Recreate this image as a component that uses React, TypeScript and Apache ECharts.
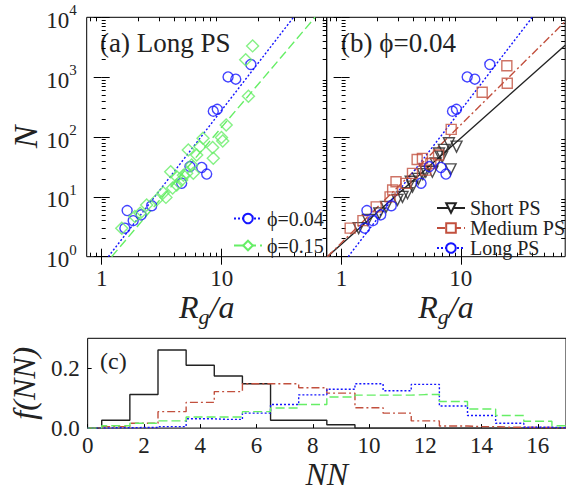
import { useEffect, useRef } from 'react';
import * as echarts from 'echarts';

const FONT = '"Liberation Serif", "Times New Roman", "DejaVu Serif", serif';
const BLUE = '#1414ff';
const GREEN = '#66ee66';
const RED = '#c2503e';
const BLACK = '#222222';

// ---- Panel (a): Long PS, N vs Rg/a ----
const longPhi004: number[][] = [
  [1.56, 3.0], [1.63, 5.9], [1.83, 4.0], [2.13, 5.0], [2.61, 7.1], [4.64, 16.9],
  [5.44, 32], [6.81, 31], [7.5, 24], [8.51, 270], [9.19, 290], [11.3, 1010],
  [13.1, 926], [17.5, 1630],
];
const longPhi015: number[][] = [
  [1.47, 3.0], [1.89, 4.7], [2.09, 5.3], [2.37, 7.3], [2.87, 8.9], [3.26, 11.7],
  [3.43, 9.8], [3.76, 26.3], [3.9, 14], [4.22, 21.7], [4.22, 15.8], [4.64, 19.1],
  [4.8, 23], [5.11, 24.7], [5.27, 60.6], [5.62, 34], [5.8, 24.7], [6.19, 50],
  [6.59, 69], [6.99, 95], [8.41, 67], [8.51, 44], [9.96, 98], [10.2, 86],
  [10.9, 158], [16.7, 480], [15.85, 1960], [18.1, 3330],
];
const fitPhi004: number[][] = [[1.135, 1], [39.7, 10000]];
const fitPhi015: number[][] = [[1.21, 1], [60, 10000]];

// ---- Panel (b): phi = 0.04 ----
const shortPS: number[][] = [
  [1.39, 3.0], [1.66, 4.1], [2.07, 5.3], [2.36, 6.8], [2.94, 8.9], [3.24, 10],
  [3.57, 11.5], [3.8, 17.9], [3.93, 14.8], [4.4, 20], [4.8, 24], [5.08, 26.3],
  [5.77, 26.3], [6.15, 36], [6.56, 53], [6.98, 47], [7.21, 61], [7.94, 78.5],
  [8.2, 28.8], [9.2, 69],
];
const mediumPS: number[][] = [
  [1.18, 3.0], [1.51, 4.0], [1.95, 6.8], [2.55, 10], [2.68, 13], [2.86, 17.9],
  [3.46, 16.8], [3.93, 24.7], [4.3, 42], [4.76, 44], [5.08, 28], [5.6, 36],
  [6.5, 50], [8.3, 134], [15.1, 558], [24.3, 1550], [24.5, 789],
];
const longPS: number[][] = longPhi004;
const fitShort: number[][] = [[0.76, 1], [75, 3400]];
const fitMedium: number[][] = [[0.76, 1], [75, 8500]];
const fitLong: number[][] = fitPhi004;

// ---- Panel (c): f(NN) histograms ----
const nnValues = [0, 1, 2, 3, 4, 5, 6, 7, 8, 9, 10, 11, 12, 13, 14, 15, 16, 17];
const fShort = [0, 0.026, 0.112, 0.261, 0.21, 0.174, 0.148, 0.026, 0.026, 0.011, 0, 0, 0, 0, 0, 0, 0, 0];
const fMedium = [0, 0.005, 0.016, 0.055, 0.086, 0.122, 0.148, 0.148, 0.135, 0.117, 0.068, 0.05, 0.024, 0.007, 0.005, 0.003, 0.002, 0];
const fLong = [0, 0.001, 0.002, 0.005, 0.031, 0.029, 0.05, 0.079, 0.111, 0.13, 0.148, 0.125, 0.146, 0.074, 0.042, 0.016, 0.003, 0.001];
const fLong015 = [0, 0.008, 0.016, 0.024, 0.037, 0.037, 0.055, 0.067, 0.079, 0.104, 0.11, 0.11, 0.112, 0.089, 0.064, 0.042, 0.023, 0.008];

// ---- ticks ----
const logXTicks = [1, 10];
const logYTicks = [1, 10, 100, 1000, 10000];
const nnTicks = [0, 2, 4, 6, 8, 10, 12, 14, 16];
const fTicks = [0, 0.2];
const X_MIN = 0.75, X_MAX = 75, Y_MIN = 1, Y_MAX = 10000;

const L10 = Math.log10;
const logXMinor: number[] = [];
for (const d of [0.1, 1, 10]) for (let k = 2; k <= 9; k++) { const v = k * d; if (v > X_MIN && v < X_MAX) logXMinor.push(v); }
const logYMinor: number[] = [];
for (const d of [1, 10, 100, 1000]) for (let k = 2; k <= 9; k++) logYMinor.push(k * d);

const tickLabelStyle = { fontFamily: FONT, fontSize: 23, color: '#222' };

function tickAxes(kind: 'x' | 'y', grid: number, labels: boolean, name: any) {
  const min = kind === 'x' ? L10(X_MIN) : L10(Y_MIN);
  const max = kind === 'x' ? L10(X_MAX) : L10(Y_MAX);
  const majors = (kind === 'x' ? logXTicks : logYTicks).map(L10);
  const minors = (kind === 'x' ? logXMinor : logYMinor).map(L10);
  const sides = kind === 'x' ? ['bottom', 'top'] : ['left', 'right'];
  const out: any[] = [];
  sides.forEach((pos, si) => {
    [true, false].forEach((major) => {
      const vals = major ? majors : minors;
      const withLabel = labels && si === 0 && major;
      const ax: any = {
        type: 'value', gridIndex: grid, position: pos, min, max,
        axisLine: { show: false }, splitLine: { show: false },
        axisTick: { show: true, inside: true, length: major ? 8 : 4, customValues: vals, lineStyle: { color: '#000', width: 1 } },
        axisLabel: withLabel
          ? (kind === 'x'
            ? { show: true, customValues: vals, margin: 10, ...tickLabelStyle, formatter: (v: number) => String(Math.round(Math.pow(10, v))) }
            : {
              show: true, customValues: vals, margin: 10,
              formatter: (v: number) => `{b|10}{s|${Math.round(v)}}`,
              rich: {
                b: { ...tickLabelStyle, padding: [6, 0, 0, 0] },
                s: { fontFamily: FONT, fontSize: 15, color: '#222', verticalAlign: 'top' },
              },
            })
          : { show: false },
      };
      if (si === 0 && major && name) Object.assign(ax, name);
      out.push(ax);
    });
  });
  return out;
}

const rgName = {
  name: '{r|R}{s|g}{r|/a}',
  nameLocation: 'middle',
  nameGap: 26,
  nameTextStyle: {
    rich: {
      r: { fontFamily: FONT, fontSize: 32, fontStyle: 'italic', color: '#222', padding: [0, 0, 5, 0] },
      s: { fontFamily: FONT, fontSize: 22, fontStyle: 'italic', color: '#222', verticalAlign: 'bottom' },
    },
  },
};

const nName = {
  name: 'N', nameLocation: 'middle', nameRotate: 90, nameGap: 44,
  nameTextStyle: { fontFamily: FONT, fontSize: 34, fontStyle: 'italic', color: '#222' },
};

export default function App() {
  const ref = useRef<HTMLDivElement>(null);
  useEffect(() => {
    document.body.style.margin = '0';
    if (!ref.current) return;
    const chart = echarts.init(ref.current, undefined, { renderer: 'svg' });

    const frame = { show: true, borderColor: '#000', borderWidth: 1, backgroundColor: 'transparent' };
    const grids = [
      { left: 86.7, top: 17.3, width: 240, height: 239.4, ...frame },
      { left: 326.7, top: 17.3, width: 238.5, height: 239.4, ...frame },
      { left: 86.7, top: 338.3, width: 481, height: 96, ...frame },
    ];

    const dataX = (g: number) => ({ type: 'log', gridIndex: g, min: X_MIN, max: X_MAX, show: false, logBase: 10 });
    const dataY = (g: number) => ({ type: 'log', gridIndex: g, min: Y_MIN, max: Y_MAX, show: false, logBase: 10 });

    const xAxis: any[] = [
      dataX(0), ...tickAxes('x', 0, true, rgName),
      dataX(1), ...tickAxes('x', 1, true, rgName),
      {
        type: 'value', gridIndex: 2, min: 0, max: 17, position: 'bottom',
        axisLine: { show: false }, splitLine: { show: false },
        axisTick: { show: true, inside: true, length: 4, customValues: nnTicks, lineStyle: { color: '#000' } },
        axisLabel: { show: true, customValues: nnTicks, margin: 6, ...tickLabelStyle },
        name: 'NN', nameLocation: 'middle', nameGap: 24,
        nameTextStyle: { fontFamily: FONT, fontSize: 32, fontStyle: 'italic', color: '#222' },
      },
    ];
    const yAxis: any[] = [
      dataY(0), ...tickAxes('y', 0, true, nName),
      dataY(1), ...tickAxes('y', 1, false, null),
      {
        type: 'value', gridIndex: 2, min: 0, max: 0.3, position: 'left',
        axisLine: { show: false }, splitLine: { show: false },
        axisTick: { show: true, inside: true, length: 4, customValues: fTicks, lineStyle: { color: '#000' } },
        axisLabel: { show: true, customValues: fTicks, margin: 8, ...tickLabelStyle, formatter: (v: number) => v.toFixed(1) },
        name: 'f(NN)', nameLocation: 'middle', nameRotate: 90, nameGap: 38,
        nameTextStyle: { fontFamily: FONT, fontSize: 32, fontStyle: 'italic', color: '#222' },
      },
    ];

    const scatter = (name: string, data: number[][], g: number, symbol: string, size: number, color: string, rotate = 0) => ({
      name, type: 'scatter', xAxisIndex: g * 5, yAxisIndex: g * 5, data, symbol, symbolSize: size, symbolRotate: rotate,
      itemStyle: { color: 'rgba(0,0,0,0)', borderColor: color, borderWidth: 1.4 }, z: 3,
    });
    const fit = (name: string, data: number[][], g: number, symbol: string, color: string, type: any, rotate = 0) => ({
      name, type: 'line', xAxisIndex: g * 5, yAxisIndex: g * 5, data, symbol, symbolRotate: rotate, showSymbol: false,
      symbolSize: 10, clip: true,
      lineStyle: { color, width: 1.4, type }, itemStyle: { color }, z: 2,
    });
    const hist = (name: string, vals: number[], color: string, type: any) => ({
      name, type: 'line', xAxisIndex: 10, yAxisIndex: 10, step: 'middle', symbol: 'none',
      data: vals.map((v, i) => [nnValues[i], v]),
      lineStyle: { color, width: 1.4, type },
    });

    const DOT = [2, 2];
    const DASH = [9, 4];
    const DASHDOT = [8, 3, 2, 3];

    chart.setOption({
      animation: false,
      backgroundColor: '#fff',
      grid: grids,
      xAxis,
      yAxis,
      legend: [
        {
          data: ['ϕ=0.04', 'ϕ=0.15'], orient: 'vertical', left: 228, top: 203.5,
          itemWidth: 28, itemHeight: 12, itemGap: 7, selectedMode: false,
          textStyle: { fontFamily: FONT, fontSize: 20, color: '#222', lineHeight: 19 },
        },
        {
          data: ['Short PS', 'Medium PS', 'Long PS'], orient: 'vertical', left: 431, top: 193,
          itemWidth: 28, itemHeight: 12, itemGap: 0, selectedMode: false,
          textStyle: { fontFamily: FONT, fontSize: 20, color: '#222', lineHeight: 19 },
        },
      ],
      series: [
        fit('ϕ=0.04', fitPhi004, 0, 'emptyCircle', BLUE, DOT),
        fit('ϕ=0.15', fitPhi015, 0, 'emptyDiamond', GREEN, DASH),
        scatter('a-0.04', longPhi004, 0, 'circle', 10, BLUE),
        scatter('a-0.15', longPhi015, 0, 'diamond', 12, GREEN),
        fit('Short PS', fitShort, 1, 'emptyTriangle', BLACK, 'solid', 180),
        fit('Medium PS', fitMedium, 1, 'emptyRect', RED, DASHDOT),
        fit('Long PS', fitLong, 1, 'emptyCircle', BLUE, DOT),
        scatter('b-short', shortPS, 1, 'triangle', 11, BLACK, 180),
        scatter('b-medium', mediumPS, 1, 'rect', 10, RED),
        scatter('b-long', longPS, 1, 'circle', 10, BLUE),
        hist('c-short', fShort, BLACK, 'solid'),
        hist('c-medium', fMedium, RED, DASHDOT),
        hist('c-long', fLong, BLUE, DOT),
        hist('c-long015', fLong015, GREEN, DASH),
      ],
      graphic: [
        { type: 'text', x: 100, y: 43, style: { text: '(a) Long PS', fontFamily: FONT, fontSize: 27, fill: '#222', textVerticalAlign: 'middle' } },
        { type: 'text', x: 341, y: 43, style: { text: '(b) ϕ=0.04', fontFamily: FONT, fontSize: 27, fill: '#222', textVerticalAlign: 'middle' } },
        { type: 'text', x: 100, y: 361, style: { text: '(c)', fontFamily: FONT, fontSize: 24, fill: '#222', textVerticalAlign: 'middle' } },
      ],
    });
    return () => chart.dispose();
  }, []);
  return <div ref={ref} style={{ width: 566, height: 491 }} />;
}
